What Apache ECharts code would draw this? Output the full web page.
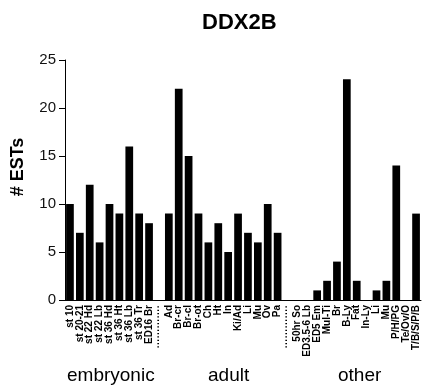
<!DOCTYPE html>
<html>
<head>
<meta charset="utf-8">
<script src="https://cdn.jsdelivr.net/npm/echarts@6/dist/echarts.min.js"></script>
<style>
  html, body { margin: 0; padding: 0; background: #fff; }
  #chart { width: 429px; height: 392px; }
</style>
</head>
<body>
<div id="chart"></div>
<script>
"use strict";

// tissue groups and their EST counts
var embryonicNames = ['st 10', 'st 20-21', 'st 22 Hd', 'st 22 Lb', 'st 36 Hd', 'st 36 Ht', 'st 36 Lb', 'st 36 Tr', 'ED16 Br'];
var embryonicCounts = [10, 7, 12, 6, 10, 9, 16, 9, 8];

var adultNames = ['Ad', 'Br-cr', 'Br-cl', 'Br-ot', 'Ch', 'Ht', 'In', 'Ki/Ad', 'Li', 'Mu', 'Ov', 'Pa'];
var adultCounts = [9, 22, 15, 9, 6, 8, 5, 9, 7, 6, 10, 7];

var otherNames = ['50hr So', 'ED3.5-6 Lb', 'ED5 Em', 'Mul-Ti', 'Br', 'B-Ly', 'Fat', 'In-Ly', 'Li', 'Mu', 'P/H/PG', 'Te/Ov/O', 'T/B/S/P/B'];
var otherCounts = [0, 0, 1, 2, 4, 23, 2, 0, 1, 2, 14, 0, 9];

var groupLabels = ['embryonic', 'adult', 'other'];
var yTicks = [0, 5, 10, 15, 20, 25];

// blank slot between groups, drawn as a dotted separator label
var categories = [].concat(embryonicNames, ['gap1'], adultNames, ['gap2'], otherNames);
var counts = [].concat(embryonicCounts, ['-'], adultCounts, ['-'], otherCounts);

var font = 'Arial, "Liberation Sans", Helvetica, sans-serif';

var myChart = echarts.init(document.getElementById('chart'));

var option = {
    animation: false,
    backgroundColor: '#fff',
    title: {
        text: 'DDX2B',
        left: 197,
        top: 7,
        textStyle: { fontFamily: font, fontSize: 22, fontWeight: 'bold', color: '#000' }
    },
    grid: { left: 65, right: 8, top: 60, bottom: 92 },
    xAxis: {
        type: 'category',
        data: categories,
        axisLine: { lineStyle: { color: '#000', width: 1 } },
        axisTick: { show: false },
        axisLabel: {
            interval: 0,
            rotate: 90,
            margin: 5,
            fontFamily: font,
            fontSize: 10,
            fontWeight: 'bold',
            color: '#000',
            formatter: function (v) {
                if (v.indexOf('gap') === 0) return '\u00b7\u00b7\u00b7\u00b7\u00b7\u00b7\u00b7\u00b7\u00b7\u00b7\u00b7\u00b7\u00b7';
                return v;
            }
        }
    },
    yAxis: {
        type: 'value',
        min: yTicks[0],
        max: yTicks[yTicks.length - 1],
        interval: 5,
        name: '# ESTs',
        nameLocation: 'middle',
        nameGap: 38,
        nameTextStyle: { fontFamily: font, fontSize: 18, fontWeight: 'bold', color: '#000', padding: [0, 0, 0, 26] },
        splitLine: { show: false },
        axisLine: { show: true, lineStyle: { color: '#000', width: 1 } },
        axisTick: { show: true, length: 6, lineStyle: { color: '#000' } },
        axisLabel: { margin: 9, fontFamily: font, fontSize: 15, color: '#111' }
    },
    series: [{
        type: 'bar',
        data: counts,
        barCategoryGap: '22%',
        itemStyle: { color: '#000' }
    }],
    graphic: [
        { type: 'text', left: 67, top: 366, style: { text: groupLabels[0], font: '19px ' + font, fill: '#000' } },
        { type: 'text', left: 208, top: 366, style: { text: groupLabels[1], font: '19px ' + font, fill: '#000' } },
        { type: 'text', left: 338, top: 366, style: { text: groupLabels[2], font: '19px ' + font, fill: '#000' } }
    ]
};

myChart.setOption(option);
</script>
</body>
</html>
